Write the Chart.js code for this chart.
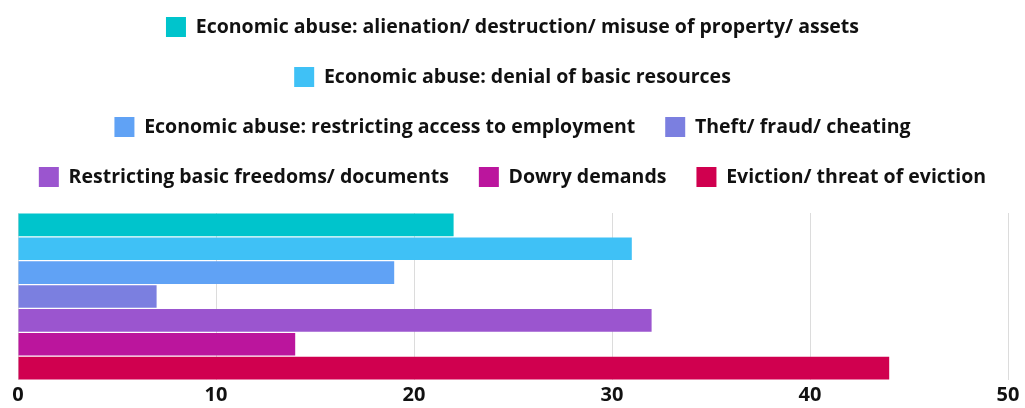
<!DOCTYPE html>
<html>
<head>
<meta charset="utf-8">
<script src="https://cdn.jsdelivr.net/npm/chart.js@4/dist/chart.umd.min.js"></script>
<style>
  html, body { margin: 0; padding: 0; background: #fff; }
  #wrap { width: 1025px; height: 408px; }
</style>
</head>
<body>
<div id="wrap"><canvas id="abuseChart"></canvas></div>
<script>
// categories (one per bar, shown as legend)
const categories = [
    'Economic abuse: alienation/ destruction/ misuse of property/ assets',
    'Economic abuse: denial of basic resources',
    'Economic abuse: restricting access to employment',
    'Theft/ fraud/ cheating',
    'Restricting basic freedoms/ documents',
    'Dowry demands',
    'Eviction/ threat of eviction'
]
const values = [22, 31, 19, 7, 32, 14, 44]
const colors = ['#00c4cc', '#3fc1f6', '#60a2f5', '#7b7fe0', '#9b55cf', '#bb159d', '#d0004f']
const xTicks = [0, 10, 20, 30, 40, 50]

const datasets = categories.map((name, i) => ({
    label: name,
    data: [values[i]],
    backgroundColor: colors[i],
    borderWidth: 0,
    barPercentage: 0.95,
    categoryPercentage: 1
}))

// push the bars a bit further below the legend
const legendMargin = {
    id: 'legendMargin',
    beforeInit(chart) {
        const fit = chart.legend.fit
        chart.legend.fit = function () {
            fit.bind(chart.legend)()
            this.height += 16
        }
    }
}

var abuseChart = new Chart(
    document.getElementById('abuseChart'),
    {
        type: 'bar',
        data: {
            labels: [''],
            datasets: datasets
        },
        options: {
            indexAxis: 'y',
            responsive: true,
            maintainAspectRatio: false,
            animation: false,
            layout: {
                padding: { top: -13, left: 0, right: 0, bottom: -2 }
            },
            scales: {
                x: {
                    min: xTicks[0],
                    max: xTicks[xTicks.length - 1],
                    afterFit: function (scale) {
                        // side room for the axis only, so the legend keeps the full width
                        scale.paddingLeft = 18
                        scale.paddingRight = 17
                    },
                    ticks: {
                        stepSize: 10,
                        padding: 3,
                        color: '#111',
                        font: { family: 'Open Sans', size: 20, weight: 'bold' }
                    },
                    grid: { color: '#dcdcdc', drawTicks: false },
                    border: { display: false }
                },
                y: {
                    display: false
                }
            },
            plugins: {
                legend: {
                    display: true,
                    position: 'top',
                    labels: {
                        boxWidth: 20,
                        boxHeight: 20,
                        padding: 30,
                        color: '#111',
                        font: { family: 'Open Sans', size: 19.5, weight: 'bold' }
                    }
                },
                tooltip: { enabled: false }
            }
        },
        plugins: [legendMargin]
    }
);
</script>
</body>
</html>
